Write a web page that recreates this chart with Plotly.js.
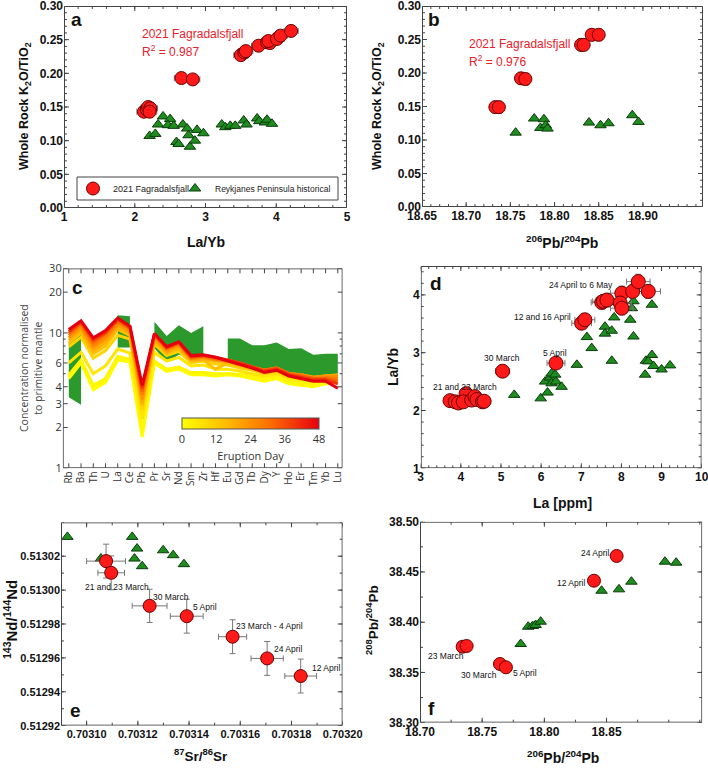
<!DOCTYPE html>
<html>
<head>
<meta charset="utf-8">
<script src="https://cdn.plot.ly/plotly-3.0.1.min.js"></script>
<style>body{margin:0;background:#fff}#chart{width:708px;height:769px}</style>
</head>
<body>
<div id="chart"></div>
<script>
// ---- panel a: La/Yb vs K2O/TiO2
const aFagLaYb = [2.13, 2.17, 2.19, 2.22, 2.21, 2.66, 2.82, 3.50, 3.55, 3.57, 3.75, 3.87, 3.91, 3.89, 4.01, 4.06, 4.21];
const aFagK2O = [0.143, 0.146, 0.150, 0.148, 0.143, 0.193, 0.191, 0.227, 0.231, 0.233, 0.241, 0.246, 0.245, 0.248, 0.251, 0.256, 0.263];
const aRpLaYb = [2.21, 2.29, 2.40, 2.33, 2.50, 2.47, 2.55, 2.59, 2.62, 2.68, 2.74, 2.76, 2.78, 2.85, 2.88, 2.97, 3.23, 3.28, 3.35, 3.42, 3.54, 3.58, 3.73, 3.76, 3.84, 3.87, 3.94];
const aRpK2O = [0.107, 0.110, 0.136, 0.124, 0.132, 0.123, 0.122, 0.098, 0.095, 0.124, 0.118, 0.108, 0.091, 0.100, 0.116, 0.111, 0.124, 0.120, 0.122, 0.122, 0.130, 0.124, 0.133, 0.129, 0.127, 0.131, 0.125];

// ---- panel b: 206Pb/204Pb vs K2O/TiO2
const bFagPb206 = [18.733, 18.737, 18.762, 18.767, 18.830, 18.833, 18.842, 18.850];
const bFagK2O = [0.149, 0.149, 0.192, 0.191, 0.242, 0.242, 0.257, 0.257];
const bRpPb206 = [18.756, 18.777, 18.784, 18.788, 18.790, 18.792, 18.839, 18.852, 18.861, 18.888, 18.895];
const bRpK2O = [0.111, 0.132, 0.118, 0.131, 0.122, 0.117, 0.126, 0.122, 0.125, 0.137, 0.127];

// ---- panel c: primitive-mantle normalised spidergram
const elements = ['Rb','Ba','Th','U','La','Ce','Pb','Pr','Sr','Nd','Sm','Zr','Hf','Eu','Gd','Tb','Dy','Y','Ho','Er','Tm','Yb','Lu'];
const eruptionDays = [0, 1, 2, 6, 10, 14, 18, 23, 28, 33, 40, 48];
const profiles = [
  [4.6, 6.0, 3.8, 4.3, 6.3, 6.1, 1.7, 6.0, 5.2, 5.4, 4.9, 4.9, 4.8, 4.9, 4.8, 4.6, 4.4, 4.6, 4.2, 4.1, 4.0, 4.2, 4.3],
  [4.8, 6.2, 4.0, 4.4, 6.5, 6.3, 1.8, 6.1, 5.3, 5.5, 5.0, 5.0, 4.9, 5.0, 4.9, 4.7, 4.5, 4.7, 4.3, 4.2, 4.1, 4.3, 4.4],
  [4.9, 6.3, 4.1, 4.6, 6.7, 6.4, 1.9, 6.2, 5.4, 5.6, 5.1, 5.1, 5.0, 5.0, 4.9, 4.8, 4.6, 4.8, 4.4, 4.3, 4.2, 4.4, 4.5],
  [6.0, 7.2, 5.0, 5.7, 7.6, 7.1, 2.3, 7.2, 6.2, 6.6, 5.7, 5.8, 5.4, 5.4, 5.2, 5.0, 4.8, 5.0, 4.6, 4.5, 4.4, 4.5, 4.6],
  [7.9, 9.3, 6.5, 7.4, 9.6, 9.0, 2.7, 8.3, 6.8, 7.3, 6.0, 6.2, 5.9, 5.8, 5.5, 5.3, 5.0, 5.2, 4.8, 4.7, 4.5, 4.6, 4.7],
  [8.4, 10.0, 7.0, 8.0, 10.6, 9.6, 2.9, 8.6, 7.0, 7.6, 6.2, 6.3, 5.4, 6.0, 5.7, 5.4, 5.1, 5.3, 4.9, 4.8, 4.6, 4.8, 4.8],
  [8.8, 10.5, 7.4, 8.5, 11.0, 9.9, 3.0, 8.9, 7.2, 7.8, 6.3, 6.4, 6.2, 6.1, 5.8, 5.5, 5.2, 5.4, 5.0, 4.9, 4.7, 4.8, 4.9],
  [9.2, 11.0, 7.8, 9.0, 11.5, 10.3, 3.2, 9.2, 7.4, 8.1, 6.4, 6.6, 6.3, 6.2, 5.9, 5.6, 5.3, 5.5, 5.0, 4.9, 4.7, 4.8, 4.8],
  [9.6, 11.5, 8.2, 9.5, 12.0, 10.7, 3.5, 9.5, 7.6, 8.3, 6.5, 6.7, 6.4, 6.2, 5.9, 5.6, 5.3, 5.5, 5.0, 4.9, 4.6, 4.7, 4.6],
  [9.9, 11.8, 8.6, 9.9, 12.3, 10.9, 3.7, 9.7, 7.7, 8.4, 6.6, 6.8, 6.5, 6.3, 6.0, 5.6, 5.3, 5.5, 5.0, 4.8, 4.6, 4.6, 4.4],
  [10.2, 12.1, 8.9, 10.1, 12.6, 11.1, 3.9, 9.8, 7.8, 8.5, 6.7, 6.8, 6.6, 6.3, 6.0, 5.6, 5.2, 5.4, 4.9, 4.7, 4.5, 4.5, 4.2],
  [10.6, 12.3, 9.2, 10.4, 12.9, 11.2, 4.1, 9.9, 7.9, 8.6, 6.8, 6.9, 6.6, 6.2, 5.9, 5.5, 5.1, 5.3, 4.8, 4.6, 4.4, 4.4, 3.9]
];
// Reykjanes historical range, drawn as green bands
const band1Els = ['Rb','Ba'];
const band1Hi = [8.5, 10.5];
const band1Lo = [3.35, 2.95];
const band2Els = ['La','Ce'];
const band2Hi = [13.5, 13.3];
const band2Lo = [7.8, 7.8];
const band3Els = ['Pr','Sr','Nd','Sm','Zr'];
const band3Hi = [12.1, 9.5, 11.4, 10.0, 11.2];
const band3Lo = [7.7, 6.1, 6.9, 6.5, 6.9];
const band4Els = ['Eu','Gd','Tb','Dy','Y','Ho','Er','Tm','Yb','Lu'];
const band4Hi = [9.1, 9.1, 8.1, 8.1, 8.5, 7.6, 7.7, 6.9, 7.0, 7.0];
const band4Lo = [6.2, 5.9, 5.6, 5.4, 5.3, 5.0, 5.0, 4.8, 4.8, 4.8];

// ---- panel d: La vs La/Yb
const dFagLa = [3.73, 3.86, 3.94, 4.13, 4.06, 4.27, 4.35, 4.40, 4.54, 4.58, 5.04, 6.37, 7.01, 7.09, 7.51, 7.55, 7.64, 8.01, 7.97, 8.01, 8.28, 8.42, 8.67];
const dFagLaYb = [2.17, 2.15, 2.13, 2.29, 2.15, 2.18, 2.24, 2.19, 2.15, 2.16, 2.68, 2.82, 3.51, 3.57, 3.87, 3.89, 3.91, 4.03, 3.86, 3.77, 4.06, 4.23, 4.06];
const dRpLa = [5.33, 5.99, 6.16, 6.10, 6.22, 6.26, 6.35, 6.26, 6.37, 6.51, 6.89, 7.14, 7.26, 7.59, 7.59, 7.76, 7.82, 7.76, 8.22, 8.26, 8.30, 8.30, 8.76, 8.61, 8.76, 8.67, 8.80, 9.00, 8.59, 9.21];
const dRpLaYb = [2.27, 2.21, 2.31, 2.50, 2.57, 2.64, 2.62, 2.47, 2.50, 2.41, 2.79, 3.27, 3.08, 3.45, 3.33, 3.38, 3.61, 2.86, 3.57, 3.77, 3.89, 3.28, 3.83, 2.86, 2.96, 2.85, 2.77, 2.71, 2.62, 2.78];

// ---- panel e: 87Sr/86Sr vs 143Nd/144Nd
const eFagSr = [0.7031076, 0.7031096, 0.7031246, 0.7031391, 0.7031570, 0.7031705, 0.7031836];
const eFagNd = [0.5130171, 0.5130102, 0.5129907, 0.5129846, 0.5129725, 0.5129597, 0.5129493];
const eFagSrErr = [0.0000076, 0.0000052, 0.0000068, 0.0000064, 0.0000055, 0.0000063, 0.0000062];
const eFagNdErr = [0.0000100, 0.0000100, 0.0000098, 0.0000100, 0.0000100, 0.0000100, 0.0000100];
const eRpSr = [0.7030925, 0.7031056, 0.7031178, 0.7031197, 0.7031187, 0.7031217, 0.7031299, 0.7031338, 0.7031380];
const eRpNd = [0.5130314, 0.5130186, 0.5130314, 0.5130245, 0.5130186, 0.5130141, 0.5130235, 0.5130206, 0.5130153];

// ---- panel f: 206Pb/204Pb vs 208Pb/204Pb
const fFagPb206 = [18.7343, 18.7375, 18.7643, 18.7691, 18.8399, 18.8581];
const fFagPb208 = [38.3756, 38.3763, 38.3584, 38.3551, 38.4413, 38.4659];
const fRpPb206 = [18.781, 18.787, 18.7906, 18.793, 18.797, 18.846, 18.860, 18.870, 18.897, 18.906];
const fRpPb208 = [38.3783, 38.3955, 38.3962, 38.3972, 38.4005, 38.4313, 38.4327, 38.4403, 38.4602, 38.4592];

// tick labels
const aXTicks = [1, 2, 3, 4, 5];
const kTicks = [0, 0.05, 0.10, 0.15, 0.20, 0.25, 0.30];
const bXTicks = [18.65, 18.70, 18.75, 18.80, 18.85, 18.90];
const cYTicks = [1, 2, 3, 4, 6, 10, 20, 30];
const dXTicks = [3, 4, 5, 6, 7, 8, 9, 10];
const dYTicks = [1, 2, 3, 4];
const eXTicks = [0.70310, 0.70312, 0.70314, 0.70316, 0.70318, 0.70320];
const eYTicks = [0.51292, 0.51294, 0.51296, 0.51298, 0.51300, 0.51302];
const fXTicks = [18.70, 18.75, 18.80, 18.85];
const fYTicks = [38.30, 38.35, 38.40, 38.45, 38.50];

// ---------------------------------------------------------------
const W = 708, H = 769;
const PX = x => x / W;
const PY = y => 1 - y / H;

const ARIAL = 'Liberation Sans, Arial, sans-serif';
const SOFT = 'Open Sans, Noto Sans, sans-serif';
const INK = '#444';
const RED = '#ff1a1a', RED_EDGE = '#6b0000';
const GREEN = '#1e8c1e', GREEN_EDGE = '#0b3b0b';
const dayColours = [[0, '#ffff00'], [0.3, '#ffc000'], [0.62, '#ff7400'], [1, '#e6000f']];

function hexRgb(h) { return [1, 3, 5].map(i => parseInt(h.slice(i, i + 2), 16)); }
function dayColour(day) {
    const t = day / 48;
    for (let i = 1; i < dayColours.length; i++) {
        if (t <= dayColours[i][0]) {
            const [t0, c0] = dayColours[i - 1], [t1, c1] = dayColours[i];
            const f = (t - t0) / (t1 - t0), a = hexRgb(c0), b = hexRgb(c1);
            return 'rgb(' + a.map((v, k) => Math.round(v + (b[k] - v) * f)).join(',') + ')';
        }
    }
    return dayColours[dayColours.length - 1][1];
}

function fag(x, y, xa, ya, extra) {
    return Object.assign({
        type: 'scatter', mode: 'markers', x: x, y: y, xaxis: xa, yaxis: ya,
        name: '2021 Fagradalsfjall', showlegend: false,
        marker: { symbol: 'circle', size: 13, color: RED, line: { color: RED_EDGE, width: 1 } }
    }, extra || {});
}
function rp(x, y, xa, ya, extra) {
    return Object.assign({
        type: 'scatter', mode: 'markers', x: x, y: y, xaxis: xa, yaxis: ya,
        name: 'Reykjanes Peninsula historical', showlegend: false,
        marker: { symbol: 'triangle-up', size: 10, color: GREEN, line: { color: GREEN_EDGE, width: 1 } }
    }, extra || {});
}
const errStyle = { color: '#777', thickness: 1, width: 3 };

function band(els, hi, lo) {
    return {
        type: 'scatter', mode: 'lines', xaxis: 'x3', yaxis: 'y3', showlegend: false,
        x: els.concat(els.slice().reverse()), y: hi.concat(lo.slice().reverse()),
        fill: 'toself', fillcolor: '#2b992b', line: { width: 0, color: '#2b992b' }
    };
}

const traces = [];
// a
traces.push(rp(aRpLaYb, aRpK2O, 'x', 'y'));
traces.push(fag(aFagLaYb, aFagK2O, 'x', 'y', {
    error_x: Object.assign({ type: 'constant', value: 0.1 }, errStyle),
    error_y: Object.assign({ type: 'constant', value: 0.007 }, errStyle)
}));
// legend-only entries (two legends so the spacing matches)
traces.push(fag([null], [null], 'x', 'y', { showlegend: true, legend: 'legend' }));
traces.push(rp([null], [null], 'x', 'y', { showlegend: true, legend: 'legend2' }));
// b
traces.push(rp(bRpPb206, bRpK2O, 'x2', 'y2'));
traces.push(fag(bFagPb206, bFagK2O, 'x2', 'y2', {
    error_y: Object.assign({ type: 'constant', value: 0.009 }, errStyle)
}));
// c
[[band1Els, band1Hi, band1Lo], [band2Els, band2Hi, band2Lo], [band3Els, band3Hi, band3Lo], [band4Els, band4Hi, band4Lo]]
    .forEach(b => traces.push(band(b[0], b[1], b[2])));
profiles.forEach((vals, i) => {
    traces.push({
        type: 'scatter', mode: 'lines', xaxis: 'x3', yaxis: 'y3', showlegend: false,
        x: elements, y: vals, line: { color: dayColour(eruptionDays[i]), width: 3 }
    });
});
traces.push({
    type: 'scatter', mode: 'markers', xaxis: 'x3', yaxis: 'y3', showlegend: false,
    x: ['Rb'], y: [1],
    marker: {
        size: 1, opacity: 0, color: [0], cmin: 0, cmax: 48, colorscale: dayColours, showscale: true,
        colorbar: {
            orientation: 'h', x: PX(250.5), xanchor: 'center', y: PY(418), yanchor: 'top',
            len: 137, lenmode: 'pixels', thickness: 11, thicknessmode: 'pixels',
            xpad: 0, ypad: 0, outlinewidth: 1, outlinecolor: '#555', ticks: '',
            tickvals: [0, 12, 24, 36, 48], tickfont: { family: SOFT, size: 11, color: '#333' },
            title: { text: 'Eruption Day', side: 'bottom', font: { family: SOFT, size: 11, color: '#333' } }
        }
    }
});
// d
traces.push(rp(dRpLa, dRpLaYb, 'x4', 'y4'));
traces.push(fag(dFagLa, dFagLaYb, 'x4', 'y4', {
    marker: { symbol: 'circle', size: 14, color: RED, line: { color: RED_EDGE, width: 1 } },
    error_x: Object.assign({ type: 'percent', value: 3.5 }, errStyle),
    error_y: Object.assign({ type: 'percent', value: 3 }, errStyle)
}));
// e
traces.push(rp(eRpSr, eRpNd, 'x5', 'y5'));
traces.push(fag(eFagSr, eFagNd, 'x5', 'y5', {
    error_x: Object.assign({ type: 'data', array: eFagSrErr }, errStyle),
    error_y: Object.assign({ type: 'data', array: eFagNdErr }, errStyle)
}));
// f
traces.push(rp(fRpPb206, fRpPb208, 'x6', 'y6'));
traces.push(fag(fFagPb206, fFagPb208, 'x6', 'y6'));

// axes: Plotly draws the labels; frame and inward ticks are a line trace on each subplot
function axis(domain, anchor, range, tickvals, extra) {
    return Object.assign({
        domain: domain, anchor: anchor, range: range, showgrid: false, zeroline: false,
        showline: false, ticks: '', ticklabeloverflow: 'allow',
        tickmode: 'array', tickvals: tickvals,
        tickfont: { family: ARIAL, size: 12, weight: 'bold', color: '#111' }
    }, extra);
}
function steps(lo, hi, step) {
    const out = [];
    for (let k = 0; lo + k * step <= hi + step * 1e-6; k++) out.push(+(lo + k * step).toPrecision(10));
    return out;
}

const legendBase = {
    orientation: 'h', yanchor: 'middle', y: PY(188.5), xanchor: 'left',
    bgcolor: 'rgba(0,0,0,0)', borderwidth: 0, itemclick: false,
    font: { family: ARIAL, size: 9, color: '#222' }
};

const layout = {
    width: W, height: H, margin: { l: 0, r: 0, t: 0, b: 0 },
    paper_bgcolor: '#fff', plot_bgcolor: 'rgba(0,0,0,0)', font: { family: ARIAL, color: '#111' },
    showlegend: true,
    legend: Object.assign({ x: PX(73) }, legendBase),
    legend2: Object.assign({ x: PX(175) }, legendBase, { font: { family: ARIAL, size: 8.5, color: '#222' } }),
    xaxis: axis([PX(64), PX(347)], 'y', [1, 5], aXTicks),
    yaxis: axis([PY(208), PY(6)], 'x', [0, 0.30], kTicks, { tickformat: '.2f' }),
    xaxis2: axis([PX(422), PX(703)], 'y2', [18.65, 18.968], bXTicks, { tickformat: '.2f' }),
    yaxis2: axis([PY(207), PY(6)], 'x2', [0, 0.30], kTicks, { tickformat: '.2f' }),
    xaxis3: axis([PX(62.7), PX(342.7)], 'y3', [-0.5, 22.4], undefined, {
        type: 'category', tickmode: 'auto', categoryarray: elements, categoryorder: 'array', tickangle: -90,
        tickfont: { family: SOFT, size: 10, color: '#333' }
    }),
    yaxis3: axis([PY(468.3), PY(268.3)], 'x3', [0, Math.log10(30)], cYTicks, {
        type: 'log', tickfont: { family: SOFT, size: 11, color: '#333' }
    }),
    xaxis4: axis([PX(420.7), PX(701.7)], 'y4', [3, 10], dXTicks),
    yaxis4: axis([PY(468.3), PY(266)], 'x4', [1, 4.5], dYTicks),
    xaxis5: axis([PX(61), PX(342.7)], 'y5', [0.70309, 0.70320], eXTicks, {
        tickformat: '.5f', tickfont: { family: ARIAL, size: 11, weight: 'bold', color: '#111' }
    }),
    yaxis5: axis([PY(725.7), PY(522.3)], 'x5', [0.51292, 0.51304], eYTicks, {
        tickformat: '.5f', tickfont: { family: ARIAL, size: 11, weight: 'bold', color: '#111' }
    }),
    xaxis6: axis([PX(420), PX(702.3)], 'y6', [18.70, 18.927], fXTicks, { tickformat: '.2f' }),
    yaxis6: axis([PY(722.7), PY(521.7)], 'x6', [38.30, 38.50], fYTicks, { tickformat: '.2f' }),
    // numeric twin of the category axis, used only for the frame of panel c
    xaxis7: { domain: [PX(62.7), PX(342.7)], anchor: 'y3', overlaying: 'x3', range: [-0.5, 22.4], visible: false },
    annotations: [],
    shapes: [{ type: 'rect', xref: 'paper', yref: 'paper', x0: PX(77), x1: PX(338), y0: PY(200), y1: PY(177),
               line: { color: INK, width: 1 }, fillcolor: 'rgba(0,0,0,0)' }]
};

// frame + inward tick marks, drawn in the subplot's own data coordinates
function frameTrace(xa, ya, xName, yName, xMajor, xMinor, yMajor, yMinor) {
    const X = layout[xName], Y = layout[yName];
    const wPx = (X.domain[1] - X.domain[0]) * W, hPx = (Y.domain[1] - Y.domain[0]) * H;
    const xr = X.range, yr = Y.range, ylog = Y.type === 'log';
    const xAt = p => xr[0] + (xr[1] - xr[0]) * p / wPx;
    const yAt = p => { const t = yr[0] + (yr[1] - yr[0]) * p / hPx; return ylog ? Math.pow(10, t) : t; };
    const inX = v => v >= Math.min(xr[0], xr[1]) - 1e-12 && v <= Math.max(xr[0], xr[1]) + 1e-12;
    const yLin = v => ylog ? Math.log10(v) : v;
    const inY = v => yLin(v) >= yr[0] - 1e-12 && yLin(v) <= yr[1] + 1e-12;
    const xs = [], ys = [];
    const seg = (x0, y0, x1, y1) => { xs.push(x0, x1, null); ys.push(y0, y1, null); };
    const L = xAt(0.5), R = xAt(wPx - 0.5), B = yAt(0.5), T = yAt(hPx - 0.5);
    xs.push(L, R, R, L, L, null); ys.push(B, B, T, T, B, null);
    const xTick = (v, len) => { if (!inX(v)) return; seg(v, B, v, yAt(len)); seg(v, T, v, yAt(hPx - len)); };
    const yTick = (v, len) => { if (!inY(v)) return; seg(L, v, xAt(len), v); seg(R, v, xAt(wPx - len), v); };
    xMinor.forEach(v => xTick(v, 3));
    xMajor.forEach(v => xTick(v, 5));
    yMinor.forEach(v => yTick(v, 3));
    yMajor.forEach(v => yTick(v, 5));
    traces.push({ type: 'scatter', mode: 'lines', x: xs, y: ys, xaxis: xa, yaxis: ya, showlegend: false,
                  hoverinfo: 'skip', connectgaps: false, line: { color: INK, width: 1 } });
}
frameTrace('x', 'y', 'xaxis', 'yaxis', aXTicks, steps(1, 5, 0.2), kTicks, steps(0, 0.30, 0.01));
frameTrace('x2', 'y2', 'xaxis2', 'yaxis2', bXTicks, steps(18.65, 18.96, 0.01), kTicks, steps(0, 0.30, 0.01));
frameTrace('x7', 'y3', 'xaxis7', 'yaxis3', elements.map((e, i) => i), [], cYTicks, [5, 7, 8, 9]);
frameTrace('x4', 'y4', 'xaxis4', 'yaxis4', dXTicks, steps(3, 10, 0.2), dYTicks, steps(1, 4.4, 0.2));
frameTrace('x5', 'y5', 'xaxis5', 'yaxis5', eXTicks, steps(0.70309, 0.70320, 0.00001), eYTicks, steps(0.51292, 0.51304, 0.00001));
frameTrace('x6', 'y6', 'xaxis6', 'yaxis6', fXTicks, steps(18.70, 18.925, 0.025), fYTicks, steps(38.30, 38.50, 0.025));

function note(text, x, y, opts) {
    layout.annotations.push(Object.assign({
        text: text, x: x, y: y, xref: 'paper', yref: 'paper', showarrow: false,
        xanchor: 'center', yanchor: 'middle'
    }, opts));
}
const bold = size => ({ family: ARIAL, size: size, weight: 'bold', color: '#111' });

// panel letters
[['a', 76, 19], ['b', 434, 19], ['c', 77, 287], ['d', 436, 284], ['e', 75, 710], ['f', 431, 708]]
    .forEach(p => note(p[0], PX(p[1]), PY(p[2]), { font: bold(19) }));

// axis titles
note('Whole Rock K<sub>2</sub>O/TiO<sub>2</sub>', PX(25), PY(106), { textangle: -90, font: bold(12.5) });
note('La/Yb', PX(205.5), PY(242), { font: bold(14) });
note('Whole Rock K<sub>2</sub>O/TiO<sub>2</sub>', PX(378), PY(106), { textangle: -90, font: bold(12.5) });
note('<sup>206</sup>Pb/<sup>204</sup>Pb', PX(562), PY(242), { font: bold(14) });
note('Concentration normalised<br>to primitive mantle', PX(31), PY(368), { textangle: -90, font: { family: SOFT, size: 10.5, color: '#444' } });
note('La/Yb', PX(393), PY(367), { textangle: -90, font: bold(14) });
note('La [ppm]', PX(562), PY(503), { font: bold(14) });
note('<sup>143</sup>Nd/<sup>144</sup>Nd', PX(10), PY(620), { textangle: -90, font: bold(15) });
note('<sup>87</sup>Sr/<sup>86</sup>Sr', PX(201), PY(755), { font: bold(13.5) });
note('<sup>208</sup>Pb/<sup>204</sup>Pb', PX(372), PY(620), { textangle: -90, font: bold(13.5) });
note('<sup>206</sup>Pb/<sup>204</sup>Pb', PX(563), PY(757), { font: bold(14) });

// regression notes
const redFont = { family: ARIAL, size: 12, color: '#e8202a' };
note('2021 Fagradalsfjall', PX(140), PY(34), { xanchor: 'left', font: redFont });
note('R<sup>2</sup> = 0.987', PX(140), PY(51), { xanchor: 'left', font: redFont });
note('2021 Fagradalsfjall', PX(467), PY(44), { xanchor: 'left', font: redFont });
note('R<sup>2</sup> = 0.976', PX(467), PY(61), { xanchor: 'left', font: redFont });

// sample date labels (axis coordinates)
const dateFont = { family: ARIAL, size: 8.5, color: '#111' };
function dateNote(text, xa, ya, x, y, anchor) {
    layout.annotations.push({ text: text, x: x, y: y, xref: xa, yref: ya, showarrow: false,
        xanchor: anchor || 'center', yanchor: 'middle', font: dateFont });
}
dateNote('21 and 23 March', 'x4', 'y4', 4.10, 2.41);
dateNote('30 March', 'x4', 'y4', 5.02, 2.91);
dateNote('5 April', 'x4', 'y4', 6.35, 3.00);
dateNote('12 and 16 April', 'x4', 'y4', 6.80, 3.62, 'right');
dateNote('24 April to 6 May', 'x4', 'y4', 7.84, 4.18, 'right');
dateNote('21 and 23 March', 'x5', 'y5', 0.7031118, 0.5130020);
dateNote('30 March', 'x5', 'y5', 0.7031328, 0.5129958);
dateNote('5 April', 'x5', 'y5', 0.7031462, 0.5129898);
dateNote('23 March - 4 April', 'x5', 'y5', 0.7031715, 0.5129788);
dateNote('24 April', 'x5', 'y5', 0.7031786, 0.5129651);
dateNote('12 April', 'x5', 'y5', 0.7031934, 0.5129542);
dateNote('24 April', 'x6', 'y6', 18.841, 38.469);
dateNote('12 April', 'x6', 'y6', 18.8212, 38.439);
dateNote('23 March', 'x6', 'y6', 18.7207, 38.3667);
dateNote('30 March', 'x6', 'y6', 18.7478, 38.3475);
dateNote('5 April', 'x6', 'y6', 18.7844, 38.3498);

Plotly.newPlot('chart', traces, layout, { staticPlot: true, displayModeBar: false });
</script>
</body>
</html>
